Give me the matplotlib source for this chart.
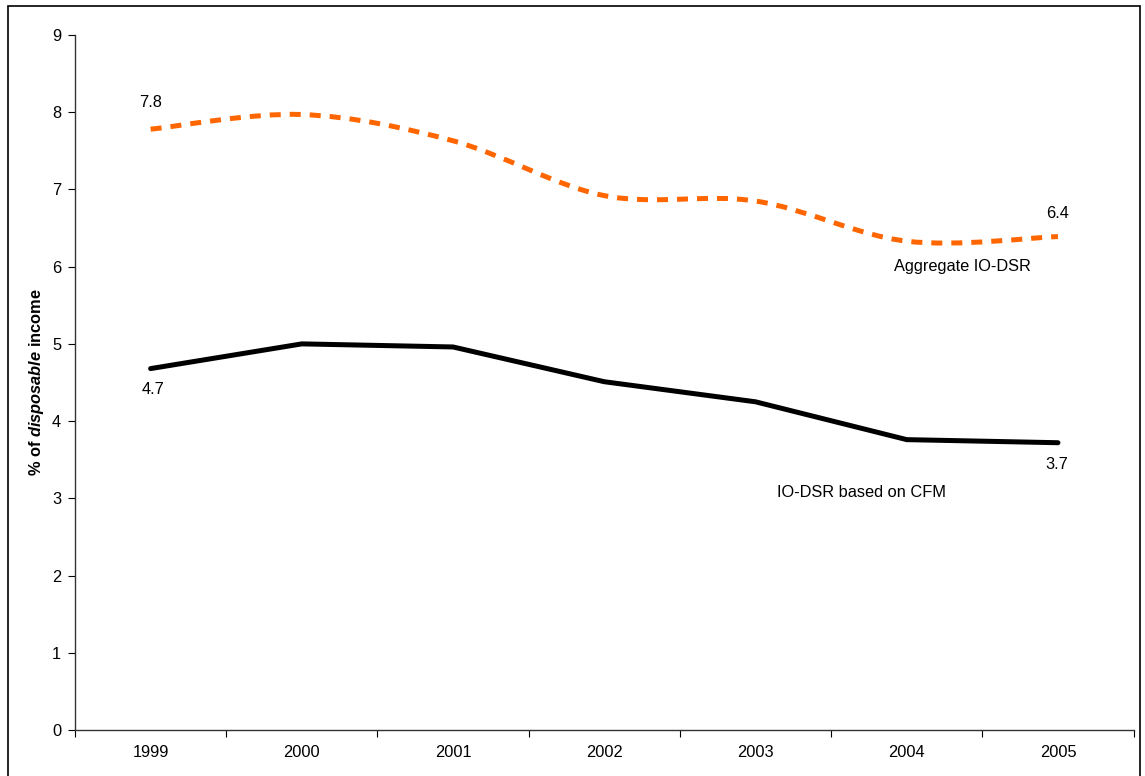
import matplotlib.pyplot as plt
from matplotlib.path import Path
from matplotlib.patches import PathPatch, Rectangle

plt.rcParams['font.family'] = ['Liberation Sans', 'DejaVu Sans']
plt.rcParams['mathtext.fontset'] = 'custom'
plt.rcParams['mathtext.rm'] = 'Liberation Sans:bold'
plt.rcParams['mathtext.bfit'] = 'Liberation Sans:italic:bold'

# Data
years = ['1999', '2000', '2001', '2002', '2003', '2004', '2005']
aggregate = [7.78, 7.97, 7.63, 6.92, 6.85, 6.33, 6.39]
cfm_based = [4.68, 5.00, 4.96, 4.51, 4.25, 3.76, 3.72]

fs = 11.8

fig = plt.figure(figsize=(11.45, 7.76), dpi=100)
ax = fig.add_axes([0.0655, 0.0593, 0.9245, 0.8956])

x = list(range(len(years)))

# Excel style smoothed curve (bezier through the data points)
def smooth_path(xs, ys):
    pts = list(zip(xs, ys))
    n = len(pts)
    verts = [pts[0]]
    codes = [Path.MOVETO]
    for i in range(n - 1):
        p0 = pts[i - 1] if i > 0 else pts[i]
        p1 = pts[i]
        p2 = pts[i + 1]
        p3 = pts[i + 2] if i + 2 < n else pts[i + 1]
        c1 = (p1[0] + (p2[0] - p0[0]) / 6, p1[1] + (p2[1] - p0[1]) / 6)
        c2 = (p2[0] - (p3[0] - p1[0]) / 6, p2[1] - (p3[1] - p1[1]) / 6)
        verts += [c1, c2, p2]
        codes += [Path.CURVE4] * 3
    return Path(verts, codes)

patch = PathPatch(smooth_path(x, aggregate), fill=False, edgecolor='#FF6600',
                  lw=3.6, linestyle=(0, (2.2, 1.8)), capstyle='butt')
ax.add_patch(patch)

ax.plot(x, cfm_based, color='black', lw=3.6, solid_capstyle='round')

# value labels at the ends
ax.annotate(f'{aggregate[0]:.1f}', (x[0], aggregate[0]), xytext=(0, 14),
            textcoords='offset points', ha='center', va='bottom', fontsize=fs)
ax.annotate(f'{aggregate[-1]:.1f}', (x[-1], aggregate[-1]), xytext=(0, 11),
            textcoords='offset points', ha='center', va='bottom', fontsize=fs)
ax.annotate(f'{cfm_based[0]:.1f}', (x[0], cfm_based[0]), xytext=(2, -10),
            textcoords='offset points', ha='center', va='top', fontsize=fs)
ax.annotate(f'{cfm_based[-1]:.1f}', (x[-1], cfm_based[-1]), xytext=(-1, -10),
            textcoords='offset points', ha='center', va='top', fontsize=fs)

ax.text(5.37, 6.0, 'Aggregate IO-DSR', ha='center', va='center', fontsize=fs)
ax.text(4.70, 3.08, 'IO-DSR based on CFM', ha='center', va='center', fontsize=fs)

ax.set_xlim(-0.5, len(years) - 0.5)
ax.set_ylim(0, 9)
ax.set_yticks(range(10))
ax.set_xticks(x)
ax.set_xticklabels(years)
ax.set_xticks([i - 0.5 for i in range(len(years) + 1)], minor=True)
ax.tick_params(axis='x', which='major', length=0, pad=11, labelsize=fs)
ax.tick_params(axis='x', which='minor', length=5, direction='out', width=0.8)
ax.tick_params(axis='y', length=5, width=0.8, labelsize=fs, pad=5)

for s in ['top', 'right']:
    ax.spines[s].set_visible(False)
for s in ['left', 'bottom']:
    ax.spines[s].set_linewidth(1.0)
    ax.spines[s].set_color('#333333')

ax.set_ylabel(r'% of $\bfit{disposable}$ income', fontweight='bold', fontsize=fs, labelpad=4)

# frame around the chart
fig.patches.append(Rectangle((0.007, -0.01), 0.989, 1.002, transform=fig.transFigure,
                             fill=False, edgecolor='black', lw=1.2))

fig.savefig('out.png', dpi=100)
